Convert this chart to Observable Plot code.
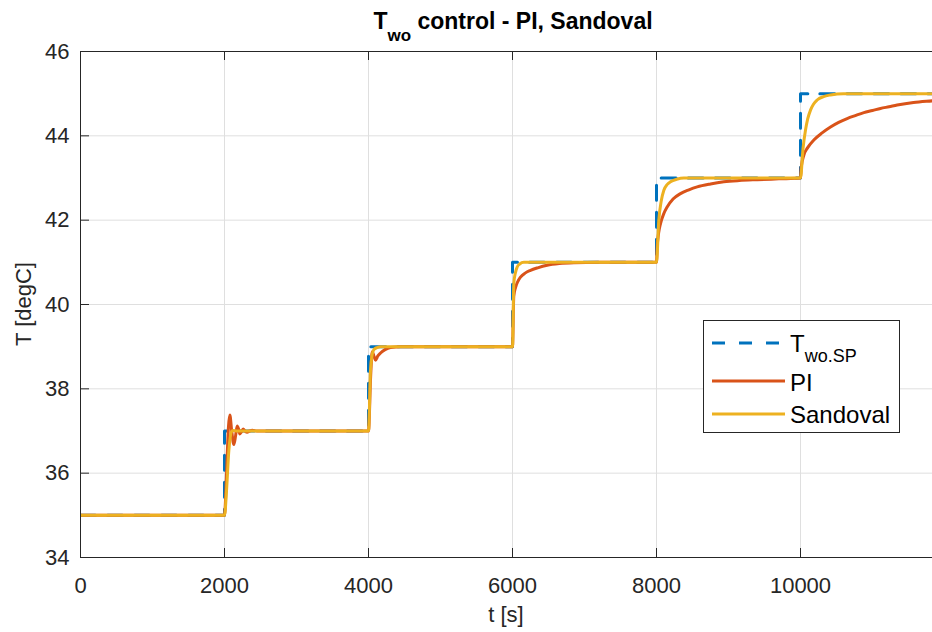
<!DOCTYPE html>
<html>
<head>
<meta charset="utf-8">
<script src="https://cdn.jsdelivr.net/npm/d3@7"></script>
<script src="https://cdn.jsdelivr.net/npm/@observablehq/plot@0.6"></script>
<style>
  html, body { margin: 0; padding: 0; background: white; }
  #chart { width: 932px; height: 632px; overflow: hidden; }
</style>
</head>
<body>
<div id="chart"></div>
<script>
// ---- Data ----
const xTicks = [0, 2000, 4000, 6000, 8000, 10000];
const yTicks = [34, 36, 38, 40, 42, 44, 46];

// Setpoint T_wo.SP (step function)
const spTime  = [0, 2000, 4000, 6000, 8000, 10000, 11900];
const spValue = [35, 37, 39, 41, 43, 45, 45];

// PI controller response
const piTime = [0, 2000, 2020, 2037, 2055, 2074, 2100, 2130, 2155, 2176, 2195, 2213, 2235, 2259, 2285, 2315, 2350, 2384, 2450,
  4000, 4030, 4051, 4075, 4097, 4130, 4167, 4230, 4306, 4450,
  6000, 6018, 6042, 6075, 6111, 6180, 6250, 6350, 6481, 6650, 6852, 7200,
  8000, 8009, 8030, 8056, 8100, 8148, 8230, 8333, 8450, 8565, 8750, 8935, 9150, 9398, 9700,
  10000, 10010, 10046, 10100, 10185, 10300, 10417, 10530, 10648, 10760, 10880, 11000, 11111, 11230, 11343, 11570, 11833, 11900];
const piValue = [35, 35, 35.6, 36.4, 37.1, 37.38, 37.0, 36.68, 36.9, 37.12, 37.05, 36.93, 36.98, 37.05, 37.0, 36.97, 37.0, 37.02, 37.0,
  37, 38.3, 38.88, 38.78, 38.68, 38.78, 38.85, 38.93, 38.98, 39.0,
  39, 40.2, 40.4, 40.55, 40.65, 40.75, 40.81, 40.87, 40.93, 40.97, 40.99, 41,
  41, 41.35, 41.7, 41.92, 42.15, 42.31, 42.5, 42.63, 42.72, 42.79, 42.86, 42.91, 42.94, 42.96, 42.98,
  43, 43.25, 43.54, 43.72, 43.9, 44.07, 44.21, 44.32, 44.41, 44.48, 44.55, 44.6, 44.65, 44.69, 44.73, 44.79, 44.83, 44.84];

// Sandoval controller response
const sanTime = [0, 2000, 2028, 2060, 2080, 2093, 2120, 2176,
  4000, 4028, 4050, 4074, 4120, 4167,
  6000, 6018, 6040, 6065, 6100, 6157,
  8000, 8032, 8065, 8102, 8150, 8194, 8280, 8380,
  10000, 10035, 10069, 10100, 10139, 10180, 10231, 10320, 10417, 10600, 11900];
const sanValue = [35, 35, 35.58, 36.53, 36.85, 36.97, 37.01, 37.0,
  37, 38.44, 38.8, 38.93, 38.98, 39.0,
  39, 40.49, 40.75, 40.89, 40.96, 41.0,
  41, 42.0, 42.45, 42.71, 42.85, 42.91, 42.97, 43.0,
  43, 43.7, 44.13, 44.4, 44.61, 44.75, 44.85, 44.93, 44.97, 45.0, 45.0];

const seriesNames = ["T_wo.SP", "PI", "Sandoval"];
const colors = ["#0072BD", "#D95319", "#EDB120"];

// ---- Build tables ----
const sp  = spTime.map((t, i) => ({t, v: spValue[i]}));
const pi  = piTime.map((t, i) => ({t, v: piValue[i]}));
const san = sanTime.map((t, i) => ({t, v: sanValue[i]}));

const ink = "#262626";
const grid = "#dfdfdf";
const font = "'Liberation Sans', Arial, Helvetica, sans-serif";
const xDomain = [0, 11900];
const xRange = [80, 80 + 0.072 * 11900];
const tickLenX = 9 / 0.072;      // data units for 9px along x
const tickLenY = 9 / (506 / 12); // data units for 9px along y

const svg = Plot.plot({
  width: 932,
  height: 632,
  marginTop: 51,
  marginBottom: 75,
  marginLeft: 80,
  marginRight: 0,
  x: {domain: xDomain, range: xRange},
  y: {domain: [34, 46]},
  style: {fontFamily: font, fontSize: "22px", color: ink, background: "white", overflow: "hidden"},
  marks: [
    Plot.gridX(xTicks, {stroke: grid, strokeOpacity: 1, strokeWidth: 1}),
    Plot.gridY(yTicks, {stroke: grid, strokeOpacity: 1, strokeWidth: 1}),
    Plot.line(sp, {x: "t", y: "v", curve: "step-after", stroke: colors[0], strokeWidth: 3, strokeDasharray: "15,12", clip: true}),
    Plot.line(pi, {x: "t", y: "v", curve: "monotone-x", stroke: colors[1], strokeWidth: 3, clip: true}),
    Plot.line(san, {x: "t", y: "v", curve: "monotone-x", stroke: colors[2], strokeWidth: 3, clip: true}),
    // box (top, bottom, left)
    Plot.ruleY([34, 46], {stroke: ink, strokeWidth: 1}),
    Plot.ruleX([0], {stroke: ink, strokeWidth: 1}),
    // inward ticks
    Plot.ruleX(xTicks, {x: d => d, y1: 34, y2: 34 + tickLenY, stroke: ink}),
    Plot.ruleX(xTicks, {x: d => d, y1: 46, y2: 46 - tickLenY, stroke: ink}),
    Plot.ruleY(yTicks, {y: d => d, x1: 0, x2: tickLenX, stroke: ink}),
    Plot.axisX(xTicks, {tickSize: 0, tickPadding: 20, label: null, tickFormat: d => String(d), fill: ink}),
    Plot.axisY(yTicks, {tickSize: 0, tickPadding: 11, label: null, tickFormat: d => String(d), fill: ink})
  ]
});

const s = d3.select(svg);

// Title with subscript
const title = s.append("text")
  .attr("x", 513).attr("y", 29)
  .attr("text-anchor", "middle")
  .attr("font-family", font).attr("font-weight", "bold")
  .attr("font-size", 23).attr("fill", "#000");
title.append("tspan").text("T");
title.append("tspan").attr("dy", 12).attr("font-size", 17).text("wo");
title.append("tspan").attr("dy", -12).text(" control - PI, Sandoval");

// Axis labels
s.append("text")
  .attr("x", 506).attr("y", 622)
  .attr("text-anchor", "middle")
  .attr("font-family", font).attr("font-size", 22).attr("fill", ink)
  .text("t [s]");
s.append("text")
  .attr("transform", "translate(31,304) rotate(-90)")
  .attr("text-anchor", "middle")
  .attr("font-family", font).attr("font-size", 22).attr("fill", ink)
  .text("T [degC]");

// Legend
const lg = s.append("g");
lg.append("rect")
  .attr("x", 703.5).attr("y", 320.5).attr("width", 196).attr("height", 112)
  .attr("fill", "white").attr("stroke", ink).attr("stroke-width", 1);
const rows = [
  {y: 343, base: 352, dash: "15,12"},
  {y: 381, base: 391, dash: null},
  {y: 414, base: 423, dash: null}
];
rows.forEach((r, i) => {
  const ln = lg.append("line")
    .attr("x1", 712).attr("x2", 785).attr("y1", r.y).attr("y2", r.y)
    .attr("stroke", colors[i]).attr("stroke-width", 3);
  if (r.dash) ln.attr("stroke-dasharray", "13,14");
  const tx = lg.append("text")
    .attr("x", 790).attr("y", r.base)
    .attr("text-anchor", "start")
    .attr("font-family", font).attr("font-size", 24).attr("fill", "#000");
  if (i === 0) {
    tx.append("tspan").text("T");
    tx.append("tspan").attr("dy", 10).attr("font-size", 18).text("wo.SP");
  } else {
    tx.text(seriesNames[i]);
  }
});

document.getElementById("chart").appendChild(svg);
</script>
</body>
</html>
